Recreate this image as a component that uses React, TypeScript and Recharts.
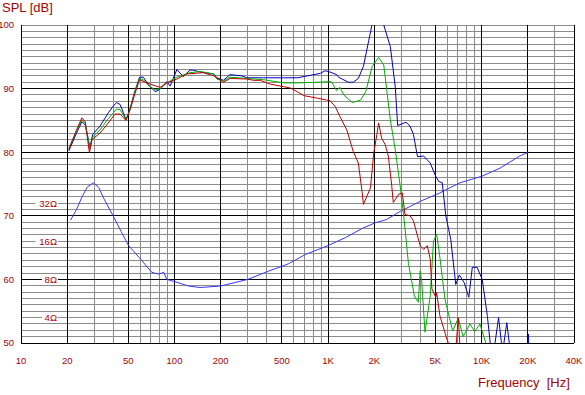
import React from 'react';
import { LineChart, Line, XAxis, YAxis, ReferenceLine } from 'recharts';

// frequency response (0°, 30°, 60°) + impedance
const freqTicks = [10, 20, 50, 100, 200, 500, 1000, 2000, 5000, 10000, 20000, 40000];
const minorFreqLines = [
  30, 40, 60, 70, 80, 90, 300, 400, 600, 700, 800, 900,
  3000, 4000, 6000, 7000, 8000, 9000, 30000,
];
const splTicks = [50, 60, 70, 80, 90, 100];
const minorSplLines = [
  51, 52, 53, 54, 55, 56, 57, 58, 59, 61, 62, 63, 64, 65, 66, 67, 68, 69,
  71, 72, 73, 74, 75, 76, 77, 78, 79, 81, 82, 83, 84, 85, 86, 87, 88, 89,
  91, 92, 93, 94, 95, 96, 97, 98, 99, 100,
];
const ohmLabels = [4, 8, 16, 32];

const splBlue = [
  { f: 20.5, db: 80.2 }, { f: 21, db: 80.8 }, { f: 23, db: 83 }, { f: 24.9, db: 84.8 },
  { f: 26.2, db: 84.3 }, { f: 27.2, db: 82.5 }, { f: 28.1, db: 80.7 }, { f: 29.3, db: 82.8 },
  { f: 32.7, db: 84.1 }, { f: 37.1, db: 86.2 }, { f: 40, db: 87.3 }, { f: 42, db: 87.8 },
  { f: 44.2, db: 87.5 }, { f: 46.5, db: 86.2 }, { f: 48.3, db: 85.1 }, { f: 51.4, db: 86.9 },
  { f: 55, db: 89.5 }, { f: 59.2, db: 91.8 }, { f: 62.6, db: 91.8 }, { f: 67.7, db: 90.6 },
  { f: 74.9, db: 89.5 }, { f: 80.6, db: 89.9 }, { f: 89.1, db: 91.1 }, { f: 93.6, db: 90.4 },
  { f: 103.6, db: 93.0 }, { f: 114, db: 91.9 }, { f: 126, db: 92.9 }, { f: 133, db: 92.9 },
  { f: 147, db: 92.6 }, { f: 180, db: 92.3 }, { f: 189, db: 91.7 }, { f: 208, db: 91.3 },
  { f: 230, db: 92.2 }, { f: 275, db: 92.0 }, { f: 296, db: 91.7 }, { f: 380, db: 91.7 },
  { f: 514, db: 91.7 }, { f: 631, db: 91.7 }, { f: 771, db: 92.1 }, { f: 891, db: 92.4 },
  { f: 956, db: 92.8 }, { f: 1005, db: 92.7 }, { f: 1138, db: 92.2 }, { f: 1170, db: 91.8 },
  { f: 1355, db: 91.0 }, { f: 1460, db: 91.0 }, { f: 1575, db: 91.6 }, { f: 1700, db: 93.5 },
  { f: 1843, db: 97.6 }, { f: 1950, db: 100.5 }, { f: 2100, db: 102 }, { f: 2250, db: 101 },
  { f: 2306, db: 100 }, { f: 2545, db: 96.6 }, { f: 2740, db: 90.3 }, { f: 2840, db: 84.2 },
  { f: 3220, db: 84.7 }, { f: 3420, db: 84.1 }, { f: 3600, db: 82.8 }, { f: 3825, db: 79.3 },
  { f: 4190, db: 79.4 }, { f: 4630, db: 78.3 }, { f: 5030, db: 76.2 }, { f: 5260, db: 75.4 },
  { f: 5545, db: 75.2 }, { f: 5850, db: 70.0 }, { f: 6300, db: 66.3 }, { f: 6790, db: 59.2 },
  { f: 7160, db: 60.7 }, { f: 7700, db: 59.5 }, { f: 8260, db: 57.2 }, { f: 8700, db: 61.9 },
  { f: 9350, db: 61.9 }, { f: 10100, db: 60.0 }, { f: 10900, db: 54.3 }, { f: 11500, db: 49 },
  { f: 12000, db: 48.5 }, { f: 12900, db: 54.0 }, { f: 13700, db: 48.5 }, { f: 14600, db: 53.2 },
  { f: 15500, db: 48 }, { f: 17000, db: 45 }, { f: 19800, db: 48 }, { f: 20200, db: 51.4 },
  { f: 20400, db: 48 },
];

const splGreen = [
  { f: 20.5, db: 80.5 }, { f: 21, db: 81.2 }, { f: 23, db: 83.3 }, { f: 24.9, db: 85.1 },
  { f: 26.2, db: 84.6 }, { f: 28.1, db: 80.5 }, { f: 29.3, db: 82.4 }, { f: 32.7, db: 83.5 },
  { f: 37.1, db: 85.3 }, { f: 42, db: 86.8 }, { f: 44.2, db: 86.7 }, { f: 46.5, db: 85.8 },
  { f: 48.3, db: 85.0 }, { f: 51.4, db: 86.8 }, { f: 55, db: 89.4 }, { f: 59.2, db: 91.6 },
  { f: 62.6, db: 91.4 }, { f: 67.7, db: 90.5 }, { f: 74.9, db: 89.8 }, { f: 80.6, db: 90.0 },
  { f: 89.1, db: 90.9 }, { f: 103.6, db: 91.8 }, { f: 126, db: 92.5 }, { f: 147, db: 92.7 },
  { f: 180, db: 92.3 }, { f: 189, db: 91.5 }, { f: 208, db: 91.2 }, { f: 230, db: 91.8 },
  { f: 296, db: 91.6 }, { f: 380, db: 91.4 }, { f: 514, db: 90.9 }, { f: 631, db: 90.9 },
  { f: 850, db: 91.0 }, { f: 1050, db: 91.1 }, { f: 1135, db: 89.7 }, { f: 1195, db: 90.2 },
  { f: 1265, db: 89.0 }, { f: 1440, db: 87.8 }, { f: 1630, db: 88.2 }, { f: 1760, db: 89.5 },
  { f: 1940, db: 93.5 }, { f: 2135, db: 94.9 }, { f: 2306, db: 93.7 }, { f: 2545, db: 85.1 },
  { f: 2740, db: 80.4 }, { f: 2950, db: 74.7 }, { f: 3130, db: 69.4 }, { f: 3340, db: 62.5 },
  { f: 3650, db: 57.4 }, { f: 3870, db: 56.4 }, { f: 3980, db: 61.3 }, { f: 4080, db: 59.6 },
  { f: 4280, db: 51.7 }, { f: 4630, db: 57.4 }, { f: 4860, db: 66.0 }, { f: 5100, db: 67.1 },
  { f: 5350, db: 63.5 }, { f: 5770, db: 56.9 }, { f: 6480, db: 51.9 }, { f: 7050, db: 53.9 },
  { f: 7580, db: 51.0 }, { f: 8400, db: 53.0 }, { f: 9040, db: 51.8 }, { f: 9760, db: 53.0 },
  { f: 10800, db: 49.5 }, { f: 11500, db: 47 },
];

const splRed = [
  { f: 20.5, db: 80.4 }, { f: 20.9, db: 81.0 }, { f: 23, db: 83.5 }, { f: 24.9, db: 85.4 },
  { f: 26.2, db: 84.8 }, { f: 27.9, db: 79.9 }, { f: 29, db: 82.0 }, { f: 32.7, db: 83.0 },
  { f: 36.2, db: 84.3 }, { f: 41, db: 86.0 }, { f: 44.2, db: 86.0 }, { f: 46.5, db: 85.4 },
  { f: 48.3, db: 85.0 }, { f: 51.4, db: 86.7 }, { f: 55.4, db: 89.3 }, { f: 59.2, db: 91.4 },
  { f: 66.2, db: 90.9 }, { f: 71.3, db: 90.6 }, { f: 80.6, db: 90.2 }, { f: 89.1, db: 90.9 },
  { f: 103.6, db: 91.5 }, { f: 120, db: 92.3 }, { f: 154, db: 92.5 }, { f: 180, db: 92.0 },
  { f: 208, db: 91.0 }, { f: 230, db: 91.6 }, { f: 296, db: 91.5 }, { f: 328, db: 91.3 },
  { f: 362, db: 91.3 }, { f: 420, db: 90.7 }, { f: 514, db: 90.3 }, { f: 567, db: 90.1 },
  { f: 631, db: 89.5 }, { f: 693, db: 88.9 }, { f: 850, db: 88.5 }, { f: 980, db: 88.2 },
  { f: 1030, db: 88.1 }, { f: 1113, db: 87.2 }, { f: 1195, db: 85.6 }, { f: 1325, db: 83.5 },
  { f: 1460, db: 80.1 }, { f: 1575, db: 78.3 }, { f: 1670, db: 73.6 }, { f: 1700, db: 71.8 },
  { f: 1890, db: 74.4 }, { f: 1985, db: 79.9 }, { f: 2080, db: 82.8 }, { f: 2135, db: 84.6 },
  { f: 2235, db: 82.2 }, { f: 2355, db: 81.2 }, { f: 2470, db: 79.4 }, { f: 2600, db: 74.7 },
  { f: 2660, db: 72.1 }, { f: 2895, db: 73.4 }, { f: 3045, db: 73.6 }, { f: 3170, db: 70.2 },
  { f: 3420, db: 70.0 }, { f: 3600, db: 69.2 }, { f: 3980, db: 65.3 }, { f: 4200, db: 64.7 },
  { f: 4430, db: 65.3 }, { f: 4630, db: 63.2 }, { f: 4750, db: 58.5 }, { f: 5030, db: 57.2 },
  { f: 5100, db: 57.9 }, { f: 5350, db: 54.3 }, { f: 5950, db: 50.6 }, { f: 6300, db: 49.0 },
  { f: 6800, db: 49.0 }, { f: 7050, db: 54.0 }, { f: 7250, db: 49.0 }, { f: 7800, db: 46 },
];

const impedance = [
  { f: 21, ohm: 23.4 }, { f: 23, ohm: 28.5 }, { f: 25, ohm: 35.9 }, { f: 27, ohm: 42.7 },
  { f: 29.6, ohm: 46.3 }, { f: 32, ohm: 42.7 }, { f: 35, ohm: 33.9 }, { f: 39.8, ohm: 25.4 },
  { f: 45, ohm: 19.0 }, { f: 50, ohm: 14.9 }, { f: 60, ohm: 11.6 }, { f: 71, ohm: 9.1 },
  { f: 79, ohm: 8.8 }, { f: 85, ohm: 9.1 }, { f: 89, ohm: 8.0 }, { f: 100, ohm: 7.7 },
  { f: 123, ohm: 7.1 }, { f: 147, ohm: 6.9 }, { f: 200, ohm: 7.1 }, { f: 300, ohm: 8.0 },
  { f: 410, ohm: 9.3 }, { f: 550, ohm: 10.6 }, { f: 714, ohm: 12.6 }, { f: 1000, ohm: 14.8 },
  { f: 1300, ohm: 17.1 }, { f: 1670, ohm: 20.2 }, { f: 2035, ohm: 22.4 }, { f: 2400, ohm: 23.7 },
  { f: 2950, ohm: 27.5 }, { f: 4000, ohm: 33.1 }, { f: 5350, ohm: 38.5 }, { f: 7240, ohm: 46.3 },
  { f: 10000, ohm: 52.0 }, { f: 13200, ohm: 60.4 }, { f: 17700, ohm: 75.2 }, { f: 20200, ohm: 80.6 },
];

const TEXT_RED = '#a80000';
const GRID_GRAY = '#8c8c8c';
const FONT = '"Liberation Sans", Arial, sans-serif';

const fmtFreq = (f: number) => (f >= 1000 ? `${f / 1000}K` : `${f}`);

const OhmTag = (props: any) => {
  const { viewBox, text } = props;
  if (!viewBox) return null;
  const right = viewBox.x + 36;
  const w = text.length * 6.5 + 2;
  return (
    <g>
      <rect x={right - w} y={viewBox.y - 5} width={w + 1} height={10} fill="#fff" />
      <text x={right} y={viewBox.y} dy="0.36em" textAnchor="end" fill={TEXT_RED} fontSize={9.5} fontFamily={FONT}>
        {text}
      </text>
    </g>
  );
};

const App = () => {
  const tickStyle = { fill: TEXT_RED, fontSize: 9.5, fontFamily: FONT };
  return (
    <div style={{ position: 'absolute', left: 0, top: 0, width: 585, height: 395, background: '#fff' }}>
      <div style={{ position: 'absolute', left: 2, top: 0, color: TEXT_RED, fontFamily: FONT, fontSize: 13 }}>
        SPL [dB]
      </div>
      <div style={{ position: 'absolute', left: 478, top: 375, color: TEXT_RED, fontFamily: FONT, fontSize: 13, whiteSpace: 'pre' }}>
        Frequency  [Hz]
      </div>
      <LineChart width={585} height={395} margin={{ top: 25, right: 11, bottom: 22, left: 0 }}>
        <XAxis
          dataKey="f"
          type="number"
          scale="log"
          domain={[10, 40000]}
          ticks={freqTicks}
          tickFormatter={fmtFreq}
          allowDataOverflow
          axisLine={false}
          tickLine={false}
          tickSize={0}
          tickMargin={14}
          height={30}
          tick={tickStyle}
          interval={0}
        />
        <YAxis
          domain={[50, 100]}
          ticks={splTicks}
          allowDataOverflow
          axisLine={false}
          tickLine={false}
          tickSize={0}
          tickMargin={7}
          width={21}
          tick={tickStyle}
          interval={0}
        />
        <YAxis yAxisId="z" hide scale="log" domain={[2.52, 812.7]} allowDataOverflow type="number" />

        {minorSplLines.map((v) => (
          <ReferenceLine key={`hs${v}`} y={v} stroke={GRID_GRAY} shapeRendering="crispEdges" />
        ))}
        {minorFreqLines.map((v) => (
          <ReferenceLine key={`vs${v}`} x={v} stroke={GRID_GRAY} shapeRendering="crispEdges" />
        ))}
        {splTicks.filter((v) => v < 100).map((v) => (
          <ReferenceLine key={`hb${v}`} y={v} stroke="#000" shapeRendering="crispEdges" />
        ))}
        {freqTicks.map((v) => (
          <ReferenceLine key={`vb${v}`} x={v} stroke="#000" shapeRendering="crispEdges" />
        ))}
        {ohmLabels.map((z) => (
          <ReferenceLine key={`z${z}`} yAxisId="z" y={z} stroke="none" label={<OhmTag text={`${z}Ω`} />} />
        ))}

        <Line yAxisId="z" data={impedance} dataKey="ohm" stroke="#3838ff" strokeWidth={1} dot={false} isAnimationActive={false} />
        <Line data={splBlue} dataKey="db" stroke="#0000c0" strokeWidth={1} dot={false} isAnimationActive={false} />
        <Line data={splGreen} dataKey="db" stroke="#00b000" strokeWidth={1} dot={false} isAnimationActive={false} />
        <Line data={splRed} dataKey="db" stroke="#c00000" strokeWidth={1} dot={false} isAnimationActive={false} />
      </LineChart>
    </div>
  );
};

export default App;
